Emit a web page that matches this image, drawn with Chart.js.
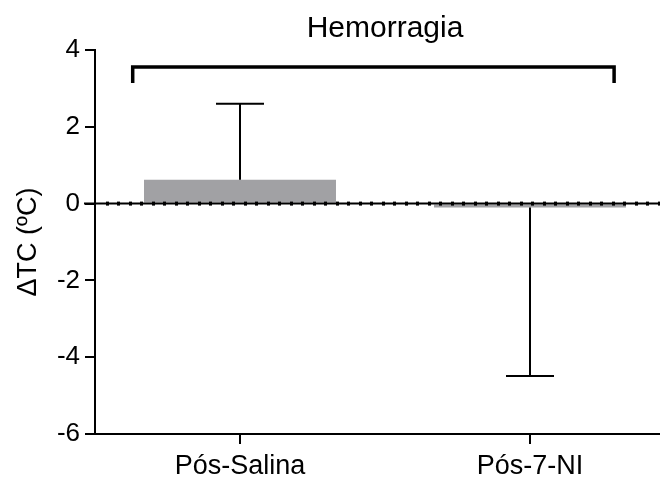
<!DOCTYPE html>
<html>
<head>
<meta charset="utf-8">
<script src="https://cdn.jsdelivr.net/npm/chart.js@4.4.0/dist/chart.umd.min.js"></script>
<style>
    html, body { margin: 0; padding: 0; background: #fff; overflow: hidden; }
    #wrap { width: 680px; height: 479px; }
</style>
</head>
<body>
<div id="wrap"><canvas id="chart" width="680" height="479"></canvas></div>
<script>
// Data
const categories = ['Pós-Salina', 'Pós-7-NI'];
const meanValues = [0.62, -0.1];
const errorValues = [1.98, 4.39]; // one-sided, drawn away from zero
const yTicks = [-6, -4, -2, 0, 2, 4];
const groupLabel = 'Hemorragia';
const bracketRange = [-0.37, 1.29];   // in category index units
const bracketLevels = [3.56, 3.14];   // top line, end of the legs

const FONT = "'Liberation Sans', Arial, sans-serif";

// Dotted zero line with small tick marks
const zeroLine = {
    id: 'zeroLine',
    afterDatasetsDraw(chart) {
        const { ctx, chartArea, scales } = chart;
        const y = scales.y.getPixelForValue(0);
        ctx.save();
        ctx.strokeStyle = '#000';
        ctx.fillStyle = '#000';
        ctx.lineWidth = 2;
        ctx.beginPath();
        ctx.moveTo(chartArea.left - 11, y);
        ctx.lineTo(chartArea.right, y);
        ctx.stroke();
        for (let x = chartArea.left + 11.5; x < chartArea.right; x += 11.5) {
            ctx.fillRect(Math.round(x) - 1, y - 2, 3, 4);
        }
        ctx.restore();
    }
};

// Error bars (one direction only)
const errorBars = {
    id: 'errorBars',
    afterDatasetsDraw(chart) {
        const { ctx, scales } = chart;
        const meta = chart.getDatasetMeta(0);
        ctx.save();
        ctx.strokeStyle = '#000';
        ctx.lineWidth = 2;
        meta.data.forEach((bar, i) => {
            const sign = meanValues[i] >= 0 ? 1 : -1;
            const x = bar.x;
            const y0 = scales.y.getPixelForValue(meanValues[i]);
            const y1 = scales.y.getPixelForValue(meanValues[i] + sign * errorValues[i]);
            const half = bar.width * 0.125;
            ctx.beginPath();
            ctx.moveTo(x, y0);
            ctx.lineTo(x, y1);
            ctx.moveTo(x - half, y1);
            ctx.lineTo(x + half, y1);
            ctx.stroke();
        });
        ctx.restore();
    }
};

// Group bracket and its label
const groupBracket = {
    id: 'groupBracket',
    afterDraw(chart) {
        const { ctx, scales } = chart;
        const x0 = scales.x.getPixelForValue(bracketRange[0]);
        const x1 = scales.x.getPixelForValue(bracketRange[1]);
        const yTop = scales.y.getPixelForValue(bracketLevels[0]);
        const yEnd = scales.y.getPixelForValue(bracketLevels[1]);
        ctx.save();
        ctx.strokeStyle = '#000';
        ctx.lineWidth = 3.5;
        ctx.lineJoin = 'miter';
        ctx.beginPath();
        ctx.moveTo(x0, yEnd);
        ctx.lineTo(x0, yTop);
        ctx.lineTo(x1, yTop);
        ctx.lineTo(x1, yEnd);
        ctx.stroke();

        const mid = (scales.x.getPixelForValue(0) + scales.x.getPixelForValue(1)) / 2;
        ctx.fillStyle = '#000';
        ctx.font = '30px ' + FONT;
        ctx.textAlign = 'center';
        ctx.textBaseline = 'alphabetic';
        ctx.fillText(groupLabel, mid, 37);
        ctx.restore();
    }
};

const ctx = document.getElementById('chart').getContext('2d');
const chart = new Chart(ctx, {
    type: 'bar',
    data: {
        labels: categories,
        datasets: [{
            data: meanValues,
            backgroundColor: '#a1a1a4',
            borderWidth: 0,
            categoryPercentage: 1,
            barPercentage: 0.662
        }]
    },
    options: {
        responsive: false,
        animation: false,
        devicePixelRatio: 1,
        layout: { padding: { top: 50, right: 5, bottom: 0, left: 0 } },
        plugins: {
            legend: { display: false },
            tooltip: { enabled: false }
        },
        scales: {
            x: {
                afterFit: s => { s.height = 45; },
                grid: {
                    display: true,
                    drawOnChartArea: false,
                    offset: false,
                    color: '#000',
                    lineWidth: 2,
                    tickLength: 10
                },
                border: { color: '#000', width: 2 },
                ticks: {
                    color: '#000',
                    padding: 6,
                    font: { family: FONT, size: 27 }
                }
            },
            y: {
                min: -6,
                max: 4,
                afterFit: s => { s.width = 95; },
                afterBuildTicks: s => { s.ticks = yTicks.map(v => ({ value: v })); },
                grid: {
                    display: true,
                    drawOnChartArea: false,
                    color: '#000',
                    lineWidth: 2,
                    tickLength: 10
                },
                border: { color: '#000', width: 2 },
                ticks: {
                    color: '#000',
                    padding: 5,
                    font: { family: FONT, size: 26 }
                },
                title: {
                    display: true,
                    text: 'ΔTC (ºC)',
                    color: '#000',
                    padding: { top: 12, bottom: 0 },
                    font: { family: FONT, size: 27 }
                }
            }
        }
    },
    plugins: [zeroLine, errorBars, groupBracket]
});
</script>
</body>
</html>
